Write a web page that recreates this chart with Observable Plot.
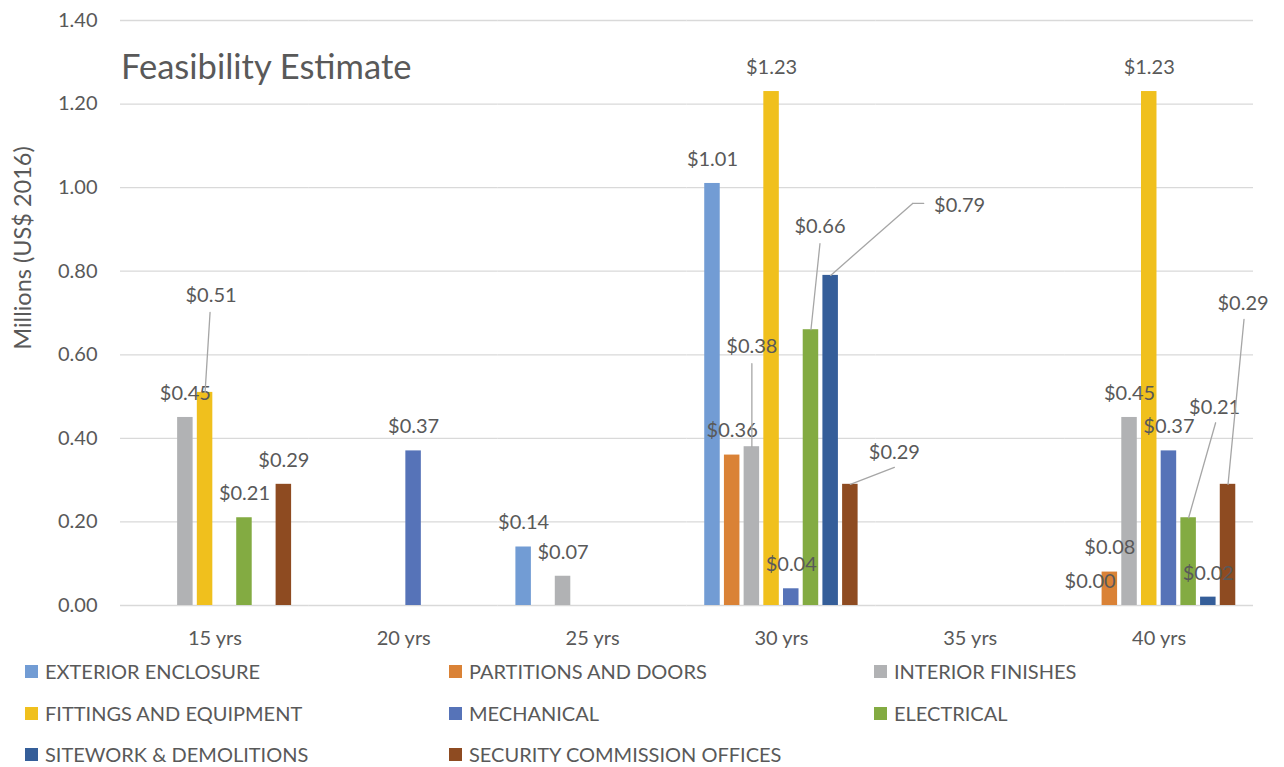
<!DOCTYPE html>
<html>
<head>
<meta charset="utf-8">
<script src="https://cdn.jsdelivr.net/npm/d3@7"></script>
<script src="https://cdn.jsdelivr.net/npm/@observablehq/plot@0.6"></script>
<style>
  body { margin: 0; background: #fff; font-family: Lato, sans-serif; }
  #wrap { position: relative; width: 1284px; height: 767px; overflow: hidden; }
  #chart { position: absolute; left: 0; top: 0; }
  .item { position: absolute; display: flex; align-items: center; height: 24px; font-size: 20px; color: #595959; white-space: nowrap; }
  .item i { display: inline-block; width: 13px; height: 13px; margin-right: 7px; }
</style>
</head>
<body>
<div id="wrap"><div id="chart"></div><div id="legend"></div></div>
<script>
// Time horizons and cost categories
const periods = ["15 yrs", "20 yrs", "25 yrs", "30 yrs", "35 yrs", "40 yrs"];
const categories = [
  "EXTERIOR ENCLOSURE", "PARTITIONS AND DOORS", "INTERIOR FINISHES",
  "FITTINGS AND EQUIPMENT", "MECHANICAL", "ELECTRICAL",
  "SITEWORK & DEMOLITIONS", "SECURITY COMMISSION OFFICES"
];
const palette = ["#729cd4", "#da8236", "#b1b2b4", "#f0c01d", "#5673b8", "#83ab42", "#355e99", "#8e4b21"];

// Estimated cost (millions of 2016 US$) per category, in category order; null = no cost
const cost15 = [null, null, 0.45, 0.51, null, 0.21, null, 0.29];
const cost20 = [null, null, null, null, 0.37, null, null, null];
const cost25 = [0.14, null, 0.07, null, null, null, null, null];
const cost30 = [1.01, 0.36, 0.38, 1.23, 0.04, 0.66, 0.79, 0.29];
const cost35 = [null, null, null, null, null, null, null, null];
const cost40 = [0.00, 0.08, 0.45, 1.23, 0.37, 0.21, 0.02, 0.29];
const yTicks = [0, 0.2, 0.4, 0.6, 0.8, 1.0, 1.2, 1.4];

const costsByPeriod = [cost15, cost20, cost25, cost30, cost35, cost40];
const rows = periods.flatMap((period, p) =>
  categories.map((category, c) => ({period, category, value: costsByPeriod[p][c]}))
);
const money = d => "$" + d.value.toFixed(2);
const keyOf = d => d.period + "|" + d.category;

// Labels pulled away from their bars, with leader segments (pixel offsets from the bar top)
const callouts = {
  "15 yrs|FITTINGS AND EQUIPMENT": {dx: 6, dy: -97, path: [[0, 0], [5, -80]]},
  "30 yrs|INTERIOR FINISHES": {dx: 0, dy: -100, path: [[0, 0], [0, -83]]},
  "30 yrs|ELECTRICAL": {dx: 9, dy: -103, path: [[0, 0], [9, -86]]},
  "30 yrs|SITEWORK & DEMOLITIONS": {dx: 129, dy: -70, path: [[0, 0], [82, -72], [93, -72]]},
  "30 yrs|SECURITY COMMISSION OFFICES": {dx: 44, dy: -32, path: [[0, 0], [44, -17]]},
  "40 yrs|ELECTRICAL": {dx: 26, dy: -110, path: [[0, 0], [27, -95]]},
  "40 yrs|SECURITY COMMISSION OFFICES": {dx: 15, dy: -181, path: [[0, 0], [16, -165]]}
};

const textColor = "#595959";
const segmentShape = {draw(context, l) { context.moveTo(0, 0); context.lineTo(0, -l); }};

const labelled = rows.filter(d => d.value != null);
const plain = labelled.filter(d => !callouts[keyOf(d)]);

const calloutMarks = [];
for (const d of labelled) {
  const c = callouts[keyOf(d)];
  if (!c) continue;
  for (let i = 1; i < c.path.length; ++i) {
    const [x0, y0] = c.path[i - 1], [x1, y1] = c.path[i];
    const ex = x1 - x0, ey = y1 - y0;
    calloutMarks.push(Plot.vector([d], {
      fx: "period", x: "category", y: "value",
      dx: x0, dy: y0,
      length: Math.hypot(ex, ey),
      rotate: Math.atan2(ex, -ey) * 180 / Math.PI,
      anchor: "start", shape: segmentShape,
      stroke: "#a6a6a6", strokeWidth: 1.3
    }));
  }
  calloutMarks.push(Plot.text([d], {
    fx: "period", x: "category", y: "value", text: money,
    dx: c.dx, dy: c.dy, fill: textColor, fontSize: 20
  }));
}

const chart = Plot.plot({
  width: 1284,
  height: 655,
  marginTop: 20,
  marginBottom: 50,
  marginLeft: 120,
  marginRight: 31,
  style: {fontFamily: "Lato, sans-serif", fontSize: "20px", color: textColor, background: "white", overflow: "visible"},
  fx: {domain: periods, padding: 0, round: false, label: null},
  x: {domain: categories, paddingInner: 0.213, paddingOuter: 0.9, round: false, axis: null},
  y: {domain: [0, 1.4]},
  color: {domain: categories, range: palette},
  marks: [
    Plot.gridY(yTicks, {stroke: "#d9d9d9", strokeOpacity: 1, strokeWidth: 1.3}),
    Plot.axisY(yTicks, {tickSize: 0, tickPadding: 23, tickFormat: d => d.toFixed(2), label: null, fontSize: 20}),
    Plot.axisFx({anchor: "bottom", tickSize: 0, tickPadding: 25, label: null, fontSize: 20}),
    Plot.barY(rows, {fx: "period", x: "category", y: "value", fill: "category"}),
    Plot.text(plain, {fx: "period", x: "category", y: "value", text: money, dy: -24, fill: textColor, fontSize: 20}),
    ...calloutMarks
  ]
});

const svg = d3.select(chart);
svg.append("text")
  .attr("x", 121).attr("y", 79)
  .attr("text-anchor", "start")
  .attr("fill", textColor)
  .style("font-size", "34.5px")
  .text("Feasibility Estimate");
svg.append("text")
  .attr("transform", "translate(23,248) rotate(-90)")
  .attr("text-anchor", "middle")
  .attr("dy", "0.35em")
  .attr("fill", textColor)
  .style("font-size", "23.5px")
  .text("Millions (US$ 2016)");

document.getElementById("chart").appendChild(chart);

// Legend: three columns, series in reading order
const legendCols = [25, 449, 874];
const legendRows = [671, 713, 754];
const legend = d3.select("#legend");
categories.forEach((name, i) => {
  const item = legend.append("div").attr("class", "item")
    .style("left", legendCols[i % 3] + "px")
    .style("top", (legendRows[Math.floor(i / 3)] - 12) + "px");
  item.append("i").style("background", palette[i]);
  item.append("span").text(name);
});
</script>
</body>
</html>
